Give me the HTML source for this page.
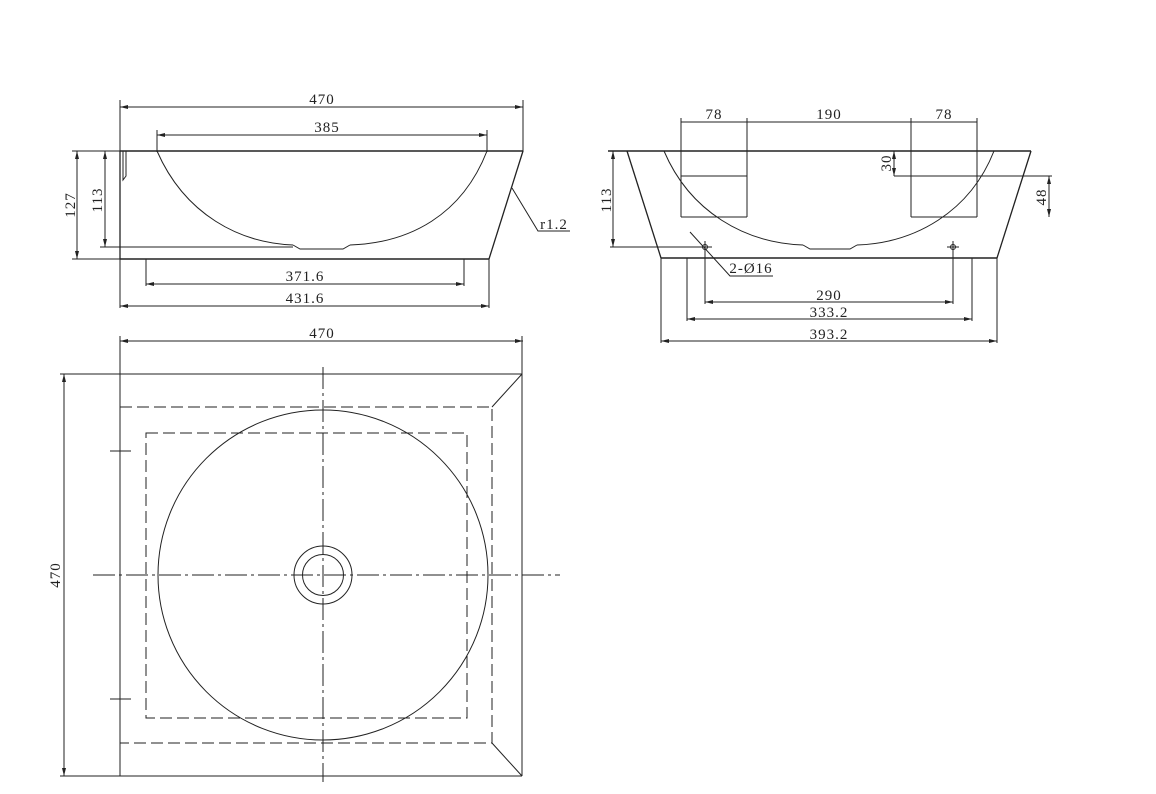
<!DOCTYPE html>
<html><head><meta charset="utf-8"><style>
html,body{margin:0;padding:0;background:#fff;}
svg{display:block;}
text{font-family:"Liberation Serif",serif;font-size:15px;fill:#222;}
</style></head><body>
<svg width="1156" height="794" viewBox="0 0 1156 794" xmlns="http://www.w3.org/2000/svg">
<g stroke="#222" stroke-width="1" fill="none">
<!-- LEFT SIDE VIEW -->
<line x1="120" y1="100" x2="120" y2="152"/>
<line x1="523" y1="100" x2="523" y2="152"/>
<line x1="120" y1="107" x2="523" y2="107"/>
<line x1="157" y1="130" x2="157" y2="152"/>
<line x1="487" y1="130" x2="487" y2="152"/>
<line x1="157" y1="135" x2="487" y2="135"/>
<line x1="120" y1="151" x2="523" y2="151" stroke-width="1.5"/>
<line x1="120" y1="151" x2="120" y2="259" stroke-width="1.3"/>
<line x1="120" y1="259" x2="489" y2="259" stroke-width="1.5"/>
<line x1="523" y1="151" x2="489" y2="259" stroke-width="1.3"/>
<path d="M157,151 C185,215 240,243 293,245"/>
<path d="M350,245 C410,243 462,215 487,151"/>
<path d="M293,245 L300,249 L343,249 L350,245"/>
<path d="M123,151 L123,180 L126,176 L126,151"/>
<line x1="72" y1="151" x2="120" y2="151"/>
<line x1="72" y1="259" x2="120" y2="259"/>
<line x1="77" y1="151" x2="77" y2="259"/>
<line x1="100" y1="247" x2="293" y2="247"/>
<line x1="105" y1="151" x2="105" y2="247"/>
<line x1="146" y1="259" x2="146" y2="286"/>
<line x1="464" y1="259" x2="464" y2="286"/>
<line x1="146" y1="284" x2="464" y2="284"/>
<line x1="120" y1="259" x2="120" y2="308"/>
<line x1="489" y1="259" x2="489" y2="308"/>
<line x1="120" y1="306" x2="489" y2="306"/>
<polyline points="512,188 538,231 570,231"/>
<!-- RIGHT SIDE VIEW -->
<line x1="681" y1="118" x2="681" y2="217"/>
<line x1="747" y1="118" x2="747" y2="217"/>
<line x1="911" y1="118" x2="911" y2="217"/>
<line x1="977" y1="118" x2="977" y2="217"/>
<line x1="681" y1="122" x2="977" y2="122"/>
<line x1="681" y1="176" x2="747" y2="176"/>
<line x1="681" y1="217" x2="747" y2="217"/>
<line x1="894" y1="176" x2="1052" y2="176"/>
<line x1="911" y1="217" x2="977" y2="217"/>
<line x1="894" y1="151" x2="894" y2="176"/>
<line x1="1049" y1="176" x2="1049" y2="217"/>
<line x1="608" y1="151" x2="1031" y2="151" stroke-width="1.5"/>
<line x1="627" y1="151" x2="661" y2="258" stroke-width="1.3"/>
<line x1="1031" y1="151" x2="997" y2="258" stroke-width="1.3"/>
<line x1="661" y1="258" x2="997" y2="258" stroke-width="1.5"/>
<path d="M664,151 C690,212 745,243 803,245"/>
<path d="M857,245 C915,243 970,212 994,151"/>
<path d="M803,245 L810,249 L850,249 L857,245"/>
<line x1="613" y1="151" x2="613" y2="247"/>
<line x1="610" y1="247" x2="712" y2="247"/>
<line x1="699" y1="247" x2="711" y2="247"/><line x1="705" y1="241" x2="705" y2="253"/>
<circle cx="705" cy="247" r="2.5"/>
<line x1="947" y1="247" x2="959" y2="247"/><line x1="953" y1="241" x2="953" y2="253"/>
<circle cx="953" cy="247" r="2.5"/>
<polyline points="690,232 730,276 773,276"/>
<line x1="705" y1="252" x2="705" y2="304"/>
<line x1="953" y1="252" x2="953" y2="304"/>
<line x1="705" y1="302" x2="953" y2="302"/>
<line x1="687" y1="258" x2="687" y2="321"/>
<line x1="972" y1="258" x2="972" y2="321"/>
<line x1="687" y1="319" x2="972" y2="319"/>
<line x1="661" y1="258" x2="661" y2="343"/>
<line x1="997" y1="258" x2="997" y2="343"/>
<line x1="661" y1="341" x2="997" y2="341"/>
<!-- PLAN VIEW -->
<line x1="120" y1="336" x2="120" y2="776"/>
<line x1="522" y1="336" x2="522" y2="374"/>
<line x1="120" y1="341" x2="523" y2="341"/>
<line x1="60" y1="374" x2="522" y2="374"/>
<line x1="60" y1="776" x2="522" y2="776"/>
<line x1="522" y1="374" x2="522" y2="776"/>
<line x1="64" y1="374" x2="64" y2="776"/>
<line x1="522" y1="374" x2="492" y2="407"/>
<line x1="492" y1="743" x2="522" y2="776"/>
<g stroke-dasharray="12,5">
<rect x="120" y="407" width="372" height="336"/>
<rect x="146" y="433" width="321" height="285"/>
</g>
<circle cx="323" cy="575" r="165"/>
<circle cx="323" cy="575" r="29"/>
<circle cx="323" cy="575" r="20.5"/>
<g stroke-dasharray="22,4,3,4">
<line x1="323" y1="367" x2="323" y2="782"/>
<line x1="93" y1="575" x2="560" y2="575"/>
</g>
<line x1="110" y1="451" x2="131" y2="451"/>
<line x1="110" y1="699" x2="131" y2="699"/>
</g>
<g fill="#222">
<path d="M120,107 l8,-2 v4z M523,107 l-8,-2 v4z M157,135 l8,-2 v4z M487,135 l-8,-2 v4z"/>
<path d="M77,151 l-2,8 h4z M77,259 l-2,-8 h4z M105,151 l-2,8 h4z M105,247 l-2,-8 h4z"/>
<path d="M146,284 l8,-2 v4z M464,284 l-8,-2 v4z M120,306 l8,-2 v4z M489,306 l-8,-2 v4z"/>
<path d="M120,341 l8,-2 v4z M523,341 l-8,-2 v4z M64,374 l-2,8 h4z M64,776 l-2,-8 h4z"/>
<path d="M613,151 l-2,8 h4z M613,247 l-2,-8 h4z M705,302 l8,-2 v4z M953,302 l-8,-2 v4z"/>
<path d="M687,319 l8,-2 v4z M972,319 l-8,-2 v4z M661,341 l8,-2 v4z M997,341 l-8,-2 v4z"/>
<path d="M1049,176 l-2,8 h4z M1049,217 l-2,-8 h4z M894,151 l-2,8 h4z M894,176 l-2,-8 h4z"/>
</g>
<text x="322" y="104" text-anchor="middle" letter-spacing="1">470</text>
<text x="327" y="132" text-anchor="middle" letter-spacing="1">385</text>
<text x="305" y="281" text-anchor="middle" letter-spacing="1">371.6</text>
<text x="305" y="303" text-anchor="middle" letter-spacing="1">431.6</text>
<text x="554" y="229" text-anchor="middle" letter-spacing="1">r1.2</text>
<text x="322" y="338" text-anchor="middle" letter-spacing="1">470</text>
<text transform="translate(75,205) rotate(-90)" text-anchor="middle" letter-spacing="1">127</text>
<text transform="translate(102,200) rotate(-90)" text-anchor="middle" letter-spacing="1">113</text>
<text transform="translate(60,575) rotate(-90)" text-anchor="middle" letter-spacing="1">470</text>
<text x="714" y="119" text-anchor="middle" letter-spacing="1">78</text>
<text x="829" y="119" text-anchor="middle" letter-spacing="1">190</text>
<text x="944" y="119" text-anchor="middle" letter-spacing="1">78</text>
<text transform="translate(611,200) rotate(-90)" text-anchor="middle" letter-spacing="1">113</text>
<text transform="translate(891,163) rotate(-90)" text-anchor="middle" letter-spacing="1">30</text>
<text transform="translate(1046,197) rotate(-90)" text-anchor="middle" letter-spacing="1">48</text>
<text x="751" y="273" text-anchor="middle" letter-spacing="1">2-Ø16</text>
<text x="829" y="300" text-anchor="middle" letter-spacing="1">290</text>
<text x="829" y="317" text-anchor="middle" letter-spacing="1">333.2</text>
<text x="829" y="339" text-anchor="middle" letter-spacing="1">393.2</text>
</svg>
</body></html>
